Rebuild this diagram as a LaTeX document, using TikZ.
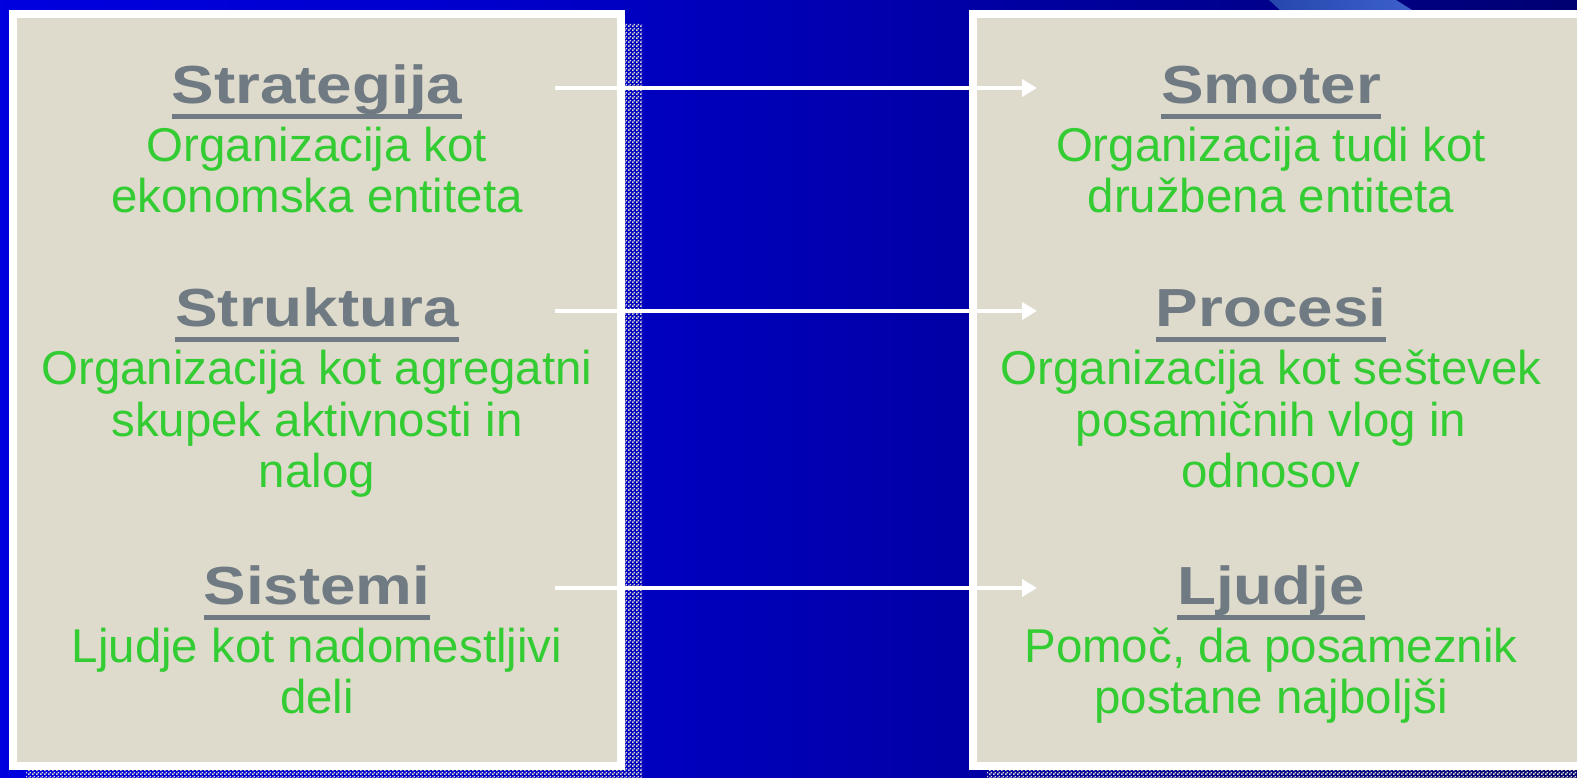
\documentclass[tikz,border=0pt]{standalone}
\usepackage{fontspec}
\setmainfont{Liberation Sans}
\newfontfamily\titlefont[FakeStretch=1.19]{Liberation Sans}
\usetikzlibrary{arrows.meta,patterns.meta}

\definecolor{boxbeige}{RGB}{222,219,205}
\definecolor{headgray}{RGB}{112,122,130}
\definecolor{textgreen}{RGB}{51,204,51}
\definecolor{swoosh}{RGB}{44,84,204}

\pgfdeclarehorizontalshading{bgfade}{100bp}{rgb(0bp)=(0,0,1); rgb(40.6bp)=(0,0,0.8); rgb(61.5bp)=(0,0,0.59); rgb(100bp)=(0,0,0.18)}

\tikzdeclarepattern{
  name=smallchecks,
  type=uncolored,
  bounding box={(0pt,0pt) and (2.28pt,2.28pt)},
  tile size={(2.28pt,2.28pt)},
  code={
    \fill (0pt,0pt) rectangle (1.14pt,1.14pt);
    \fill (1.14pt,1.14pt) rectangle (2.28pt,2.28pt);
  }
}

\newcommand\titleline[1]{\setbox0\hbox{#1}\rlap{\rule[-0.3cm]{\wd0}{0.1cm}}\box0}

\begin{document}
\begin{tikzpicture}
\tikzstyle{head}=[anchor=base,text=headgray,font=\titlefont\bfseries\fontsize{30.5pt}{31pt}\selectfont];
\tikzstyle{body}=[anchor=base,align=center,text=textgreen,font=\fontsize{27pt}{29.56pt}\selectfont];
\tikzstyle{panel}=[fill=boxbeige,draw=white,line width=0.16cm];
\tikzstyle{shadow}=[pattern=smallchecks,pattern color=boxbeige];
\tikzstyle{link}=[draw=white,line width=0.08cm,-{Triangle[length=0.3cm,width=0.34cm]}];

\useasboundingbox (0,0) rectangle (31.54,15.56);
\clip (0,0) rectangle (31.54,15.56);

% background
\shade[shading=bgfade] (0,0) rectangle (31.54,15.56);
\shade[left color=swoosh!85!black,right color=swoosh!90!white]
  (25.38,15.56) -- (27.92,15.56) -- (28.88,14.96) -- (26.04,14.96) -- cycle;

% shadows and panels
\fill[shadow] (0.52,-0.12) rectangle (12.84,15.08);
\fill[shadow] (19.74,-0.12) rectangle (33,15.08);
\path[panel] (0.26,0.24) rectangle (12.42,15.28);
\path[panel] (19.46,0.24) rectangle (33,15.28);

% arrows
\path (11.1,13.8) coordinate (a1) (20.74,13.8) coordinate (b1);
\path (11.1,9.34) coordinate (a2) (20.74,9.34) coordinate (b2);
\path (11.1,3.8) coordinate (a3) (20.74,3.8) coordinate (b3);
\foreach \i in {1,2,3}
{
   \draw[link] (a\i) -- (b\i);
}

% left column (body nodes sit on their last baseline)
\path (6.34,13.48) node[head] (l1) {\titleline{Strategija}};
\path (6.34,11.30) node[body] (l1b) {Organizacija kot\\ekonomska entiteta};
\path (6.34,9.02) node[head] (l2) {\titleline{Struktura}};
\path (6.34,5.80) node[body] (l2b) {Organizacija kot agregatni\\skupek aktivnosti in\\nalog};
\path (6.34,3.46) node[head] (l3) {\titleline{Sistemi}};
\path (6.34,1.28) node[body] (l3b) {Ljudje kot nadomestljivi\\deli};

% right column
\path (25.42,13.48) node[head] (r1) {\titleline{Smoter}};
\path (25.42,11.30) node[body] (r1b) {Organizacija tudi kot\\družbena entiteta};
\path (25.42,9.02) node[head] (r2) {\titleline{Procesi}};
\path (25.42,5.80) node[body] (r2b) {Organizacija kot seštevek\\posamičnih vlog in\\odnosov};
\path (25.42,3.46) node[head] (r3) {\titleline{Ljudje}};
\path (25.42,1.28) node[body] (r3b) {Pomoč, da posameznik\\postane najboljši};
\end{tikzpicture}
\end{document}
